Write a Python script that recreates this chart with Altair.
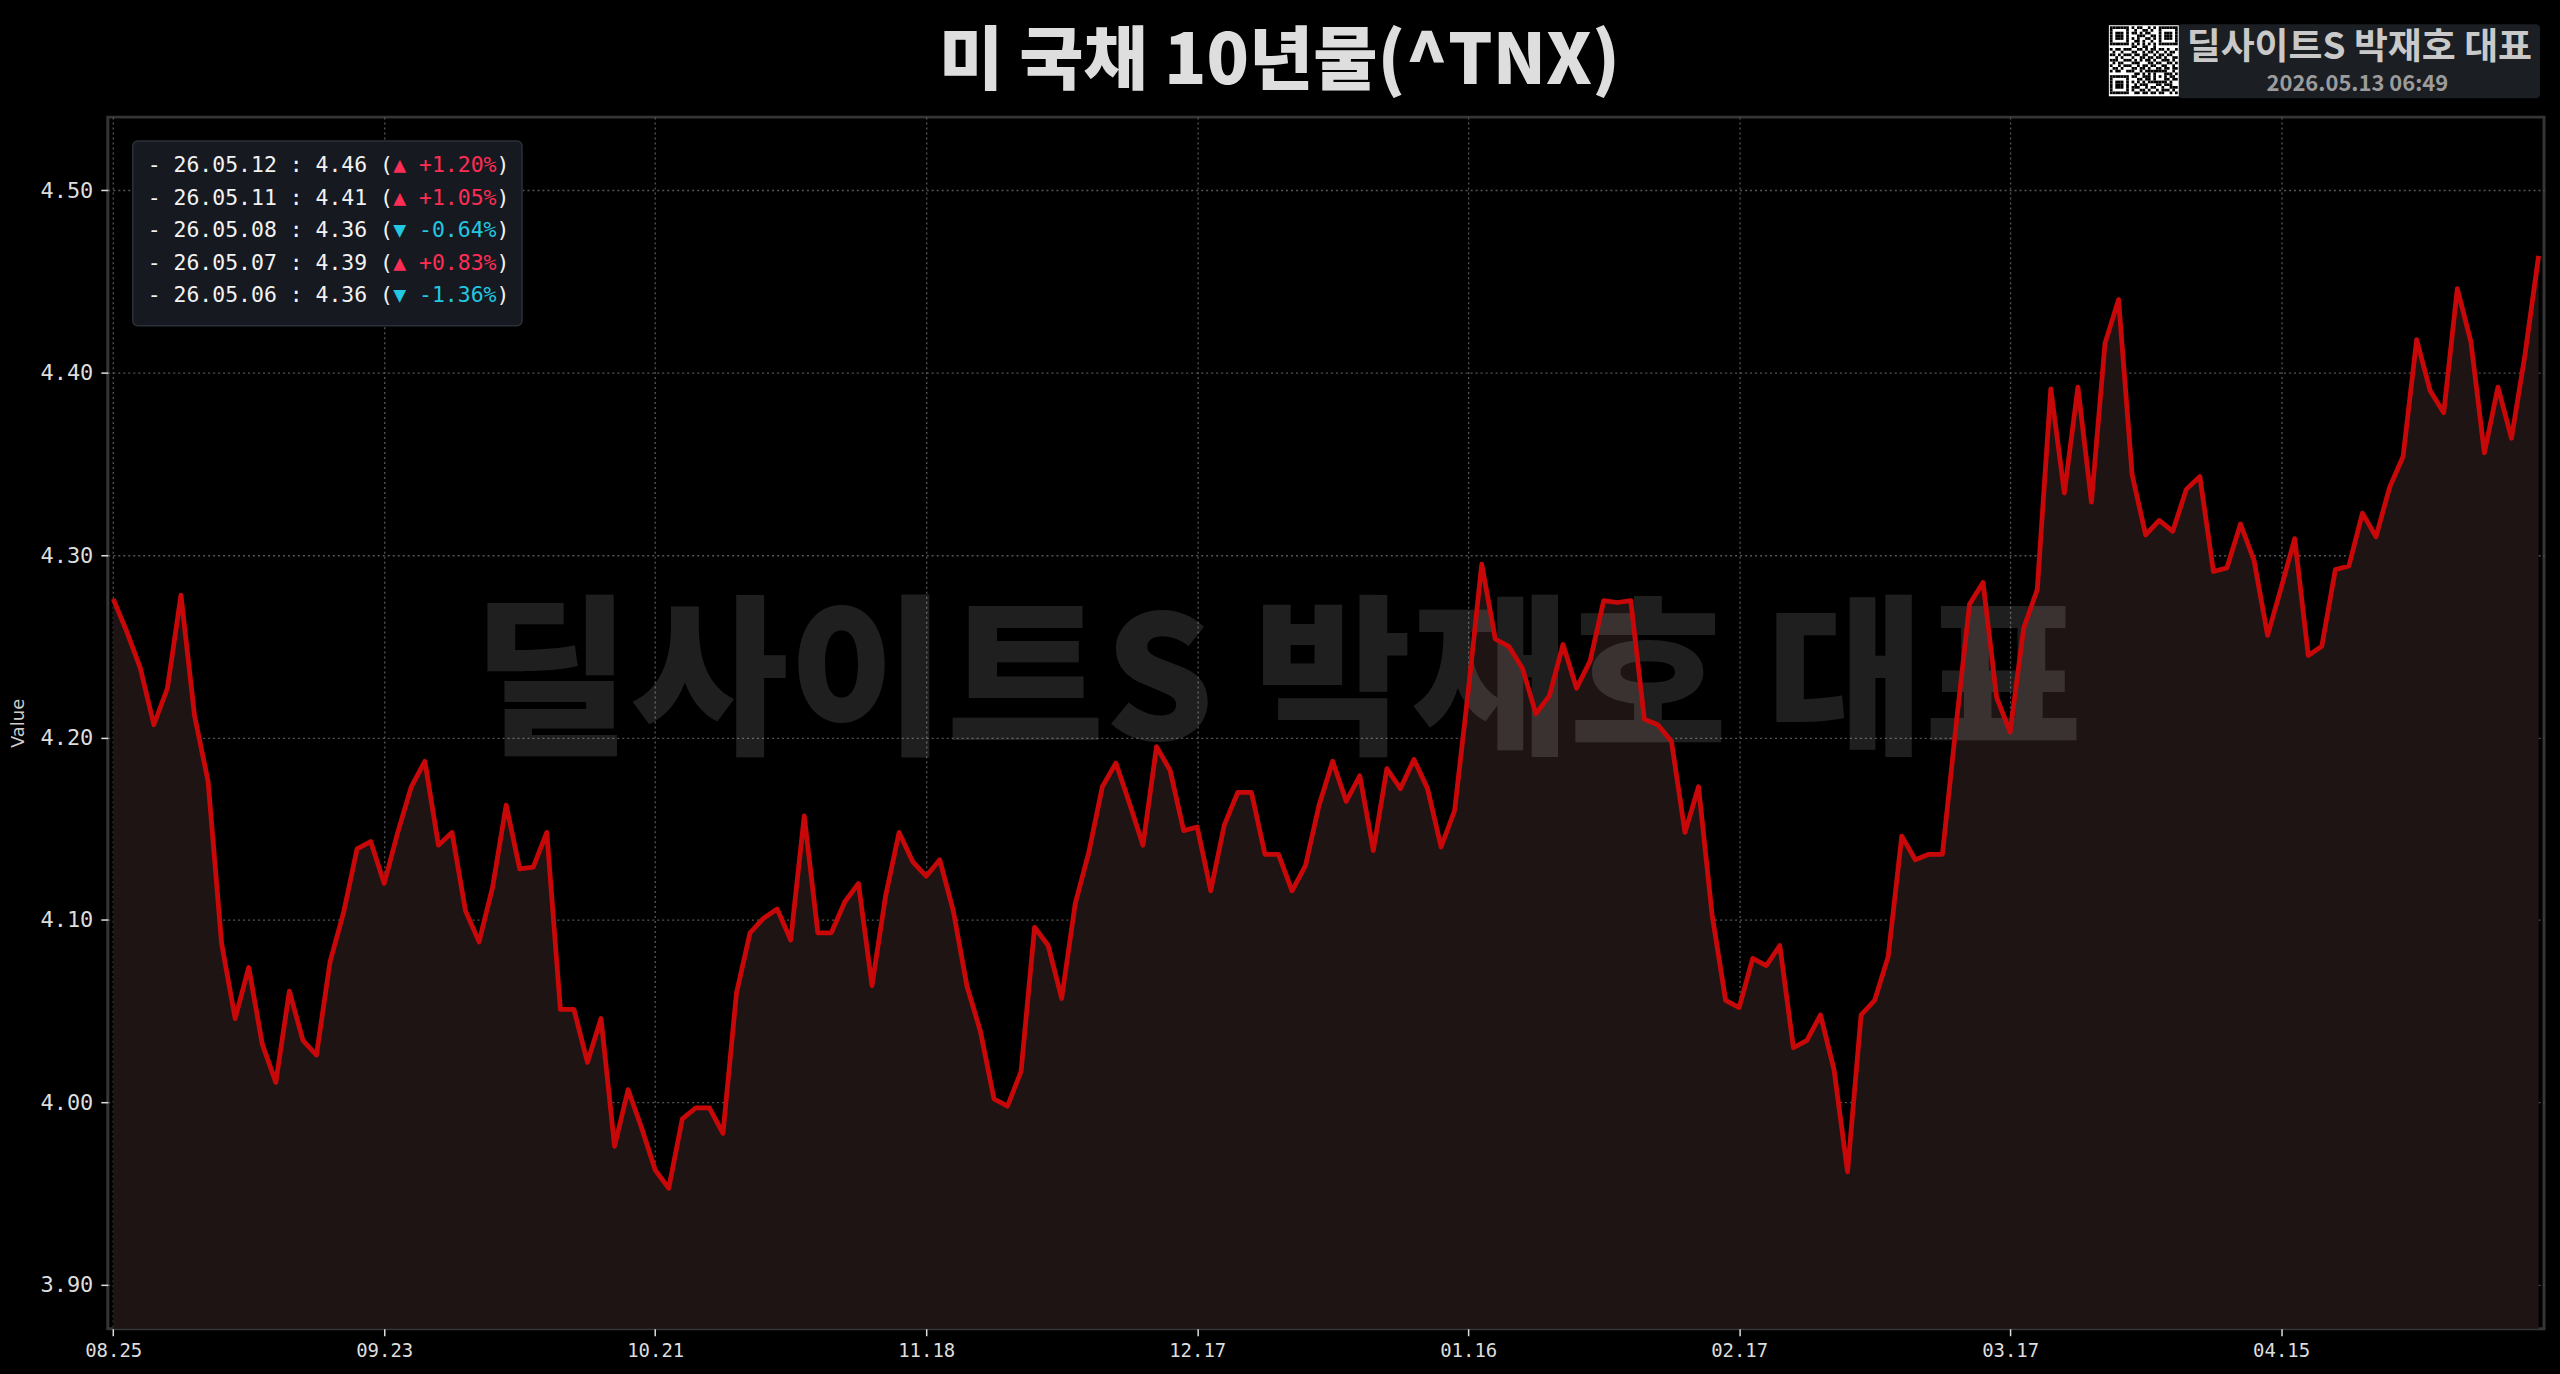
import altair as alt
import pandas as pd

# ---------------- data ----------------
values = [
    4.276, 4.258, 4.238, 4.207, 4.227, 4.278, 4.212, 4.176, 4.087, 4.046,
    4.074, 4.032, 4.011, 4.061, 4.034, 4.026, 4.077, 4.104, 4.139, 4.143,
    4.120, 4.148, 4.173, 4.187, 4.141, 4.148, 4.105, 4.088, 4.118, 4.163,
    4.128, 4.129, 4.148, 4.051, 4.051, 4.022, 4.046, 3.976, 4.007, 3.986,
    3.963, 3.953, 3.991, 3.997, 3.997, 3.983, 4.060, 4.093, 4.101, 4.106,
    4.089, 4.157, 4.093, 4.093, 4.110, 4.120, 4.064, 4.113, 4.148, 4.132,
    4.124, 4.133, 4.105, 4.064, 4.039, 4.002, 3.998, 4.017, 4.096, 4.086,
    4.057, 4.109, 4.137, 4.173, 4.186, 4.164, 4.141, 4.195, 4.182, 4.149,
    4.151, 4.116, 4.152, 4.170, 4.170, 4.136, 4.136, 4.116, 4.130, 4.163,
    4.187, 4.165, 4.179, 4.138, 4.183, 4.172, 4.188, 4.172, 4.140, 4.160,
    4.225, 4.295, 4.254, 4.250, 4.238, 4.213, 4.223, 4.251, 4.227, 4.242,
    4.275, 4.274, 4.275, 4.210, 4.207, 4.198, 4.148, 4.173, 4.103, 4.056,
    4.052, 4.079, 4.075, 4.086, 4.030, 4.034, 4.048, 4.018, 3.962, 4.048,
    4.056, 4.080, 4.146, 4.133, 4.136, 4.136, 4.206, 4.273, 4.285, 4.222,
    4.203, 4.260, 4.281, 4.391, 4.334, 4.392, 4.329, 4.416, 4.440, 4.344,
    4.311, 4.319, 4.313, 4.336, 4.343, 4.291, 4.293, 4.317, 4.297, 4.256,
    4.282, 4.309, 4.245, 4.250, 4.292, 4.294, 4.323, 4.310, 4.337, 4.354,
    4.418, 4.390, 4.378, 4.446, 4.417, 4.356, 4.392, 4.364, 4.410, 4.464,
]
tick_positions = [0, 20, 40, 60, 80, 100, 120, 140, 160]
tick_labels = ["08.25", "09.23", "10.21", "11.18", "12.17", "01.16", "02.17", "03.17", "04.15"]
y_ticks = [3.9, 4.0, 4.1, 4.2, 4.3, 4.4, 4.5]

legend_dates = ["26.05.12", "26.05.11", "26.05.08", "26.05.07", "26.05.06"]
legend_values = [4.46, 4.41, 4.36, 4.39, 4.36]
legend_pcts = [1.20, 1.05, -0.64, 0.83, -1.36]

TITLE = "미 국채 10년물(^TNX)"
BRAND = "딜사이트S 박재호 대표"
STAMP = "2026.05.13 06:49"

QR_ROWS = [
    "1111111 0 101100101 0 1111111",
    "1000001 0 010011010 0 1000001",
    "1011101 0 110101100 0 1011101",
    "1011101 0 001110011 0 1011101",
    "1011101 0 101001101 0 1011101",
    "1000001 0 011010010 0 1000001",
    "1111111 0 101010101 0 1111111",
    "0000000 0 110011001 0 0000000",
    "1011011 1 001101011 0 1101001",
    "0100100 0 110010110 1 0010110",
    "1101011 1 011011001 0 1101100",
    "0010100 0 100110110 1 1010011",
    "1110011 1 010101101 0 0111010",
    "0101100 0 111000110 1 1001101",
    "1001011 1 001011011 0 0110010",
    "0110100 0 110110100 1 1011011",
    "1011001110010111 11111 0010",
    "0000000001101010 10001 1101",
    "1111111011001110 10101 0110",
    "1000001000110110 10001 1011",
    "1011101010101011 11111 0100",
    "1011101001011100 01101 1100",
    "1011101011100101 10010 0111",
    "1000001010011010 01011 1010",
    "1111111001101101 10110 0101",
]

# ---------------- layout ----------------
W, H = 2441, 1214
PAD = {"left": 100, "top": 108, "right": 8, "bottom": 40}
Y_MIN, Y_MAX = 3.876, 4.540
X_MIN, X_MAX = -0.4, 179.4

df = pd.DataFrame({"i": list(range(len(values))), "v": values})

labels_js = "[" + ",".join("'%s'" % t for t in tick_labels) + "]"
pos_js = "[" + ",".join(str(p) for p in tick_positions) + "]"

x_enc = alt.X(
    "i:Q",
    scale=alt.Scale(domain=[X_MIN, X_MAX], nice=False, zero=False),
    axis=alt.Axis(
        values=tick_positions,
        labelExpr=f"{labels_js}[indexof({pos_js}, datum.value)]",
        title=None,
        labelPadding=6,
        labelFontSize=19,
    ),
)
y_enc = alt.Y(
    "v:Q",
    scale=alt.Scale(domain=[Y_MIN, Y_MAX], nice=False, zero=False),
    axis=alt.Axis(values=y_ticks, format=".2f", title="Value", labelPadding=8,
                  titlePadding=12, labelFontSize=22),
)

area = alt.Chart(df).mark_area(color="#1e1414", opacity=1).encode(
    x=x_enc, y=y_enc, y2=alt.datum(Y_MIN)
)

watermark = alt.Chart(pd.DataFrame({"t": [BRAND]})).mark_text(
    font="Noto Sans CJK KR", fontWeight=900, fontSize=172, color="#ffffff",
    opacity=0.12, align="center", baseline="middle",
).encode(text="t:N", x=alt.value(1172), y=alt.value(572))

line = alt.Chart(df).mark_line(color="#c80808", strokeWidth=4.8, strokeJoin="round").encode(
    x="i:Q", y="v:Q"
)

title = alt.Chart(pd.DataFrame({"t": [TITLE]})).mark_text(
    font="Noto Sans CJK KR", fontWeight=900, fontSize=70, color="#dedede",
    align="center", baseline="middle",
).encode(text="t:N", x=alt.value(1174), y=alt.value(-54))

# legend box (recent values)
leg_box = alt.Chart(pd.DataFrame({"a": [0]})).mark_rect(
    fill="#161a20", stroke="#2b3038", strokeWidth=1.5, cornerRadius=5
).encode(x=alt.value(25), x2=alt.value(415), y=alt.value(24), y2=alt.value(209))

FS = 21.5
CW = 0.6021 * FS
rows = []
for k, (d, v, p) in enumerate(zip(legend_dates, legend_values, legend_pcts)):
    yy = 49 + 32.6 * k
    prefix = f"- {d} : {v:.2f} ("
    arrow = "▲" if p >= 0 else "▼"
    col = "#ff2d55" if p >= 0 else "#22c8e2"
    mid = f"{arrow} {p:+.2f}%"
    rows.append({"txt": prefix, "px": 40, "py": yy, "c": "#f2f2f2"})
    rows.append({"txt": mid, "px": 40 + len(prefix) * CW, "py": yy, "c": col})
    rows.append({"txt": ")", "px": 40 + (len(prefix) + len(mid)) * CW, "py": yy, "c": "#f2f2f2"})
leg_df = pd.DataFrame(rows)
leg_text = alt.Chart(leg_df).mark_text(
    font="DejaVu Sans Mono", fontSize=FS, align="left", baseline="middle"
).encode(
    text="txt:N",
    x=alt.X("px:Q", scale=None),
    y=alt.Y("py:Q", scale=None),
    color=alt.Color("c:N", scale=None, legend=None),
)

# brand badge (top right)
badge = alt.Chart(pd.DataFrame({"a": [0]})).mark_rect(
    fill="#1b1e23", cornerRadius=4
).encode(x=alt.value(2074), x2=alt.value(2437), y=alt.value(-93), y2=alt.value(-19))
brand_txt = alt.Chart(pd.DataFrame({"t": [BRAND]})).mark_text(
    font="Noto Sans CJK KR", fontWeight="bold", fontSize=37, color="#c9c9c9",
    align="center", baseline="middle",
).encode(text="t:N", x=alt.value(2256), y=alt.value(-69))
stamp_txt = alt.Chart(pd.DataFrame({"t": [STAMP]})).mark_text(
    font="Noto Sans CJK KR", fontWeight="bold", fontSize=22, color="#9c9c9c",
    align="center", baseline="middle",
).encode(text="t:N", x=alt.value(2254), y=alt.value(-33))

qr_bg = alt.Chart(pd.DataFrame({"a": [0]})).mark_rect(fill="#ffffff").encode(
    x=alt.value(2005), x2=alt.value(2075), y=alt.value(-92), y2=alt.value(-21)
)
MOD = 68 / 25
cells = []
for r, row in enumerate(QR_ROWS):
    bits = row.replace(" ", "")[:25]
    for c, b in enumerate(bits):
        if b == "1":
            cells.append({"qx": 2006 + c * MOD, "qx2": 2006 + (c + 1) * MOD,
                          "qy": -91 + r * MOD, "qy2": -91 + (r + 1) * MOD})
qr_df = pd.DataFrame(cells)
qr = alt.Chart(qr_df).mark_rect(fill="#000000").encode(
    x=alt.X("qx:Q", scale=None), x2="qx2:Q",
    y=alt.Y("qy:Q", scale=None), y2="qy2:Q",
)

chart = alt.layer(
    area, watermark, line, title, leg_box, leg_text, badge, brand_txt, stamp_txt, qr_bg, qr
).properties(
    width=W, height=H,
    autosize=alt.AutoSizeParams(type="none"),
    padding=PAD,
).configure(
    background="#000000",
).configure_view(
    stroke="#353535", strokeWidth=3,
).configure_axis(
    grid=True, gridColor="#555555", gridDash=[2, 3], gridWidth=1.3,
    domain=False, tickColor="#dddddd", tickSize=7, tickWidth=1.5,
    labelColor="#dddddd", labelFont="DejaVu Sans Mono",
    titleColor="#cccccc", titleFont="DejaVu Sans", titleFontSize=18,
    titleFontWeight="normal", zindex=1,
)

chart.save(
    "out.html",
    embed_options={
        "renderer": "svg",
        "actions": False,
        "defaultStyle": "body { background-color: #000000; }",
    },
)
